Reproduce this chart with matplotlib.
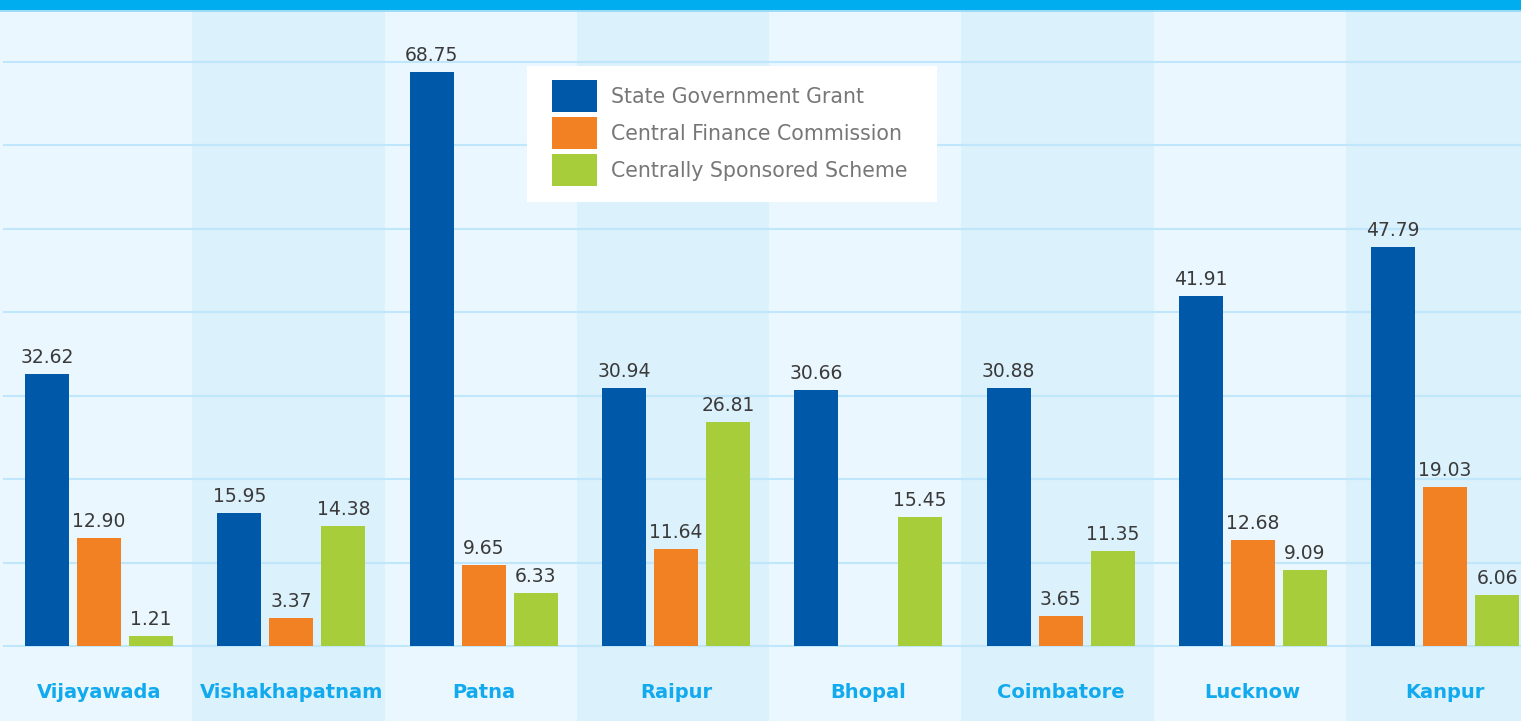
import numpy as np
import matplotlib
matplotlib.use("Agg")
import matplotlib.pyplot as plt
from matplotlib.patches import Patch, Rectangle

cities = ["Vijayawada", "Vishakhapatnam", "Patna", "Raipur", "Bhopal",
          "Coimbatore", "Lucknow", "Kanpur"]
series_names = ["State Government Grant", "Central Finance Commission",
                "Centrally Sponsored Scheme"]
state_grant = [32.62, 15.95, 68.75, 30.94, 30.66, 30.88, 41.91, 47.79]
central_fc = [12.90, 3.37, 9.65, 11.64, np.nan, 3.65, 12.68, 19.03]
css = [1.21, 14.38, 6.33, 26.81, 15.45, 11.35, 9.09, 6.06]
colors = ["#0058a8", "#f28123", "#a8cd3a"]

W, H = 1521, 721
fig = plt.figure(figsize=(W / 100, H / 100), dpi=100)
ax = fig.add_axes([0, 0, 1, 1])

px_per_unit = 8.35
base_px = 646
y_bottom = -(H - base_px) / px_per_unit
y_top = base_px / px_per_unit
group_px = 192.3
x0_px = 99
x_left = -x0_px / group_px
x_right = (W - x0_px) / group_px
ax.set_xlim(x_left, x_right)
ax.set_ylim(y_bottom, y_top)
ax.axis("off")

# alternating background bands
for i in range(len(cities)):
    c = "#eaf7fe" if i % 2 == 0 else "#dbf1fc"
    ax.axvspan(i - 0.5 - 0.015, i + 0.5 - 0.015, color=c, zorder=0, lw=0)
ax.axvspan(x_left, -0.515, color="#eaf7fe", zorder=0, lw=0)

# top strip
ax.axhspan((base_px - 10) / px_per_unit, y_top, color="#00aeef", zorder=5, lw=0)
ax.axhline((base_px - 11) / px_per_unit, color="#8fd6f7", lw=1.2, zorder=5)

# gridlines
gx0 = x_left + 4 / group_px
for g in range(0, 80, 10):
    ax.plot([gx0, x_right], [g, g], color="#bfe6fa", lw=1.5, zorder=1)

x = np.arange(len(cities))
bw = 44 / group_px
step = 52 / group_px
for k, (vals, col) in enumerate(zip([state_grant, central_fc, css], colors)):
    xs = x + (k - 1) * step
    v = np.array(vals, dtype=float)
    ax.bar(xs, np.nan_to_num(v), width=bw, color=col, zorder=3, lw=0,
           label=series_names[k])
    for xi, vi in zip(xs, v):
        if np.isnan(vi):
            continue
        ax.text(xi, vi + 7 / px_per_unit, f"{vi:.2f}", ha="center", va="bottom",
                fontsize=13.5, color="#3a3a3a", family="DejaVu Sans", zorder=4)

for i, c in enumerate(cities):
    ax.text(i, -(692 - base_px) / px_per_unit, c, ha="center", va="center",
            fontsize=14, fontweight="bold", color="#12aaee",
            family="DejaVu Sans", zorder=4)

# legend box
ax.add_patch(Rectangle((527 / W, 1 - 202 / H), (937 - 527) / W, (202 - 66) / H,
                       transform=ax.transAxes, facecolor="white",
                       edgecolor="none", zorder=6))
fs = 14.8
handles = [Patch(facecolor=c, edgecolor="none") for c in colors]
leg = ax.legend(handles, series_names, loc="upper left",
                bbox_to_anchor=(552 / W, 1 - 80 / H), frameon=False,
                prop={"family": "DejaVu Sans", "size": fs},
                handlelength=45 / (fs * 100 / 72),
                handleheight=((32 / (fs * 100 / 72)) - 0.245) / 0.65,
                labelspacing=5 / (fs * 100 / 72),
                handletextpad=14 / (fs * 100 / 72), borderpad=0, borderaxespad=0)
for t in leg.get_texts():
    t.set_color("#777777")
leg.set_zorder(7)

fig.savefig("out.png", dpi=100)
